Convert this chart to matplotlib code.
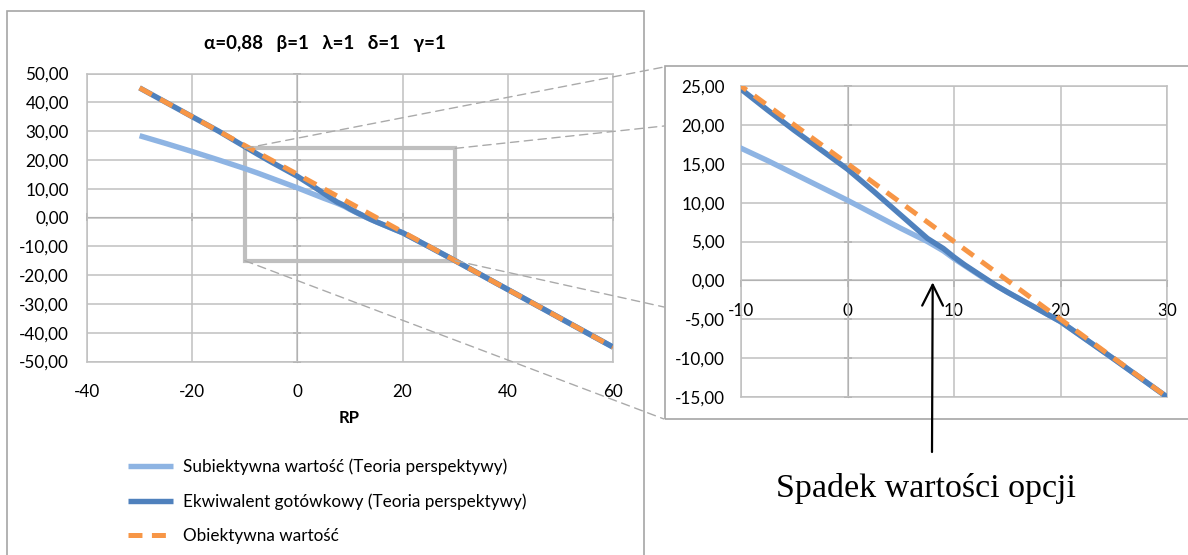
import matplotlib
matplotlib.use("Agg")
import matplotlib.pyplot as plt
from matplotlib.patches import Rectangle, ConnectionPatch
from matplotlib.ticker import FuncFormatter

plt.rcParams['font.family'] = ['Lato', 'DejaVu Sans']

# RP values and the three series
rp = [-30, -25, -20, -15, -10, -7.5, -5, -2.5, 0, 2.5, 5, 7.5, 9, 10, 11, 12,
      13, 14, 15, 17.5, 20, 25, 30, 40, 50, 60]
subjective = [28.4, 25.7, 22.9, 20.0, 17.0, 15.4, 13.7, 12.0, 10.3, 8.5, 6.7,
              5.0, 3.8, 2.8, 1.9, 1.0, 0.1, -0.7, -1.5, -3.4, -5.3, -10.1,
              -15.0, -25.0, -35.0, -45.0]
cash_equiv = [45.0, 40.0, 35.0, 30.0, 24.6, 21.9, 19.3, 16.8, 14.3, 11.4, 8.4,
              5.4, 4.1, 3.0, 2.0, 1.1, 0.2, -0.7, -1.5, -3.4, -5.3, -10.1,
              -15.0, -25.0, -35.0, -45.0]
objective = [45.0, 40.0, 35.0, 30.0, 25.0, 22.5, 20.0, 17.5, 15.0, 12.5, 10.0,
             7.5, 6.0, 5.0, 4.0, 3.0, 2.0, 1.0, 0.0, -2.5, -5.0, -10.0, -15.0,
             -25.0, -35.0, -45.0]

labels = ["Subiektywna wartość (Teoria perspektywy)",
          "Ekwiwalent gotówkowy (Teoria perspektywy)",
          "Obiektywna wartość"]
title = "α=0,88   β=1   λ=1   δ=1   γ=1"

main_xticks = [-40, -20, 0, 20, 40, 60]
main_yticks = [-50, -40, -30, -20, -10, 0, 10, 20, 30, 40, 50]
zoom_xticks = [-10, 0, 10, 20, 30]
zoom_yticks = [-15, -10, -5, 0, 5, 10, 15, 20, 25]
zoom_box = (-10, -15, 30, 24)

C_LIGHT = "#8EB4E3"
C_DARK = "#4F81BD"
C_ORANGE = "#F79646"
C_GRID = "#C0C0C0"
C_AXIS = "#868686"
C_FRAME = "#A6A6A6"
TICK_FS = 12.3

W, H = 1188, 555
fig = plt.figure(figsize=(W / 100, H / 100), dpi=100)


def fx(px):
    return px / W


def fy(py):
    return 1 - py / H


comma = FuncFormatter(lambda v, p: f"{v:.2f}".replace(".", ","))
intfmt = FuncFormatter(lambda v, p: f"{v:.0f}")

# chart frames
fig.add_artist(Rectangle((fx(7), -0.1), fx(644) - fx(7), fy(11) + 0.1,
                         transform=fig.transFigure, fill=False,
                         edgecolor=C_FRAME, lw=1.2, zorder=0))
fig.add_artist(Rectangle((fx(665), fy(419)), 0.6, fy(66) - fy(419),
                         transform=fig.transFigure, fill=False,
                         edgecolor=C_FRAME, lw=1.2, zorder=0))


def draw_series(ax, lw):
    l1, = ax.plot(rp, subjective, color=C_LIGHT, lw=lw, zorder=3,
                  solid_capstyle='butt')
    l2, = ax.plot(rp, cash_equiv, color=C_DARK, lw=lw, zorder=4,
                  solid_capstyle='butt')
    l3, = ax.plot(rp, objective, color=C_ORANGE, lw=lw * 0.92, zorder=5,
                  dashes=(2.8, 1.9), dash_capstyle='butt')
    return [l1, l2, l3]


def style_axes(ax, xt, yt, xlim, ylim):
    ax.set_xlim(*xlim)
    ax.set_ylim(*ylim)
    ax.set_xticks(xt)
    ax.set_yticks(yt)
    ax.grid(True, color=C_GRID, lw=1.1, zorder=0)
    for s in ax.spines.values():
        s.set_color(C_GRID)
        s.set_linewidth(1.1)
    ax.yaxis.set_major_formatter(comma)
    ax.xaxis.set_major_formatter(intfmt)
    ax.tick_params(length=0, labelsize=TICK_FS, colors="black")
    ax.set_axisbelow(True)


# ---- main chart ----
ax1 = fig.add_axes([fx(87), fy(361.5), fx(613) - fx(87), fy(73.5) - fy(361.5)])
style_axes(ax1, main_xticks, main_yticks, (-40, 60), (-50, 50))
ax1.tick_params(axis='x', pad=16)
ax1.tick_params(axis='y', pad=13)
lines = draw_series(ax1, 3.9)

# axis lines through zero
sx1 = ax1.secondary_xaxis(0.5)
sx1.set_xticks(main_xticks)
sx1.tick_params(direction='inout', length=6, color=C_AXIS, labelbottom=False,
                labeltop=False, width=1.1)
sx1.spines['bottom'].set_color(C_AXIS)
sx1.spines['top'].set_color(C_AXIS)
sy1 = ax1.secondary_yaxis(0.4)
sy1.set_yticks(main_yticks)
sy1.tick_params(direction='inout', length=6, color=C_AXIS, labelleft=False,
                labelright=False, width=1.1)
for s in sy1.spines.values():
    s.set_color(C_AXIS)

ax1.add_patch(Rectangle((zoom_box[0], zoom_box[1]), zoom_box[2] - zoom_box[0],
                        zoom_box[3] - zoom_box[1], fill=False,
                        edgecolor="#BFBFBF", lw=3.0, zorder=2.5))

fig.text(fx(325), fy(43), title, ha='center', va='center', fontsize=13.5,
         fontweight='bold')
fig.text(fx(349), fy(418), "RP", ha='center', va='center', fontsize=12,
         fontweight='bold')

fig.legend(lines, labels, loc='upper left',
           bbox_to_anchor=(fx(128), fy(458)), frameon=False, fontsize=12.3,
           handlelength=2.65, handletextpad=0.55, labelspacing=1.08,
           borderaxespad=0, borderpad=0)

# ---- zoomed chart ----
ax2 = fig.add_axes([fx(741), fy(397), fx(1167) - fx(741), fy(86) - fy(397)])
style_axes(ax2, zoom_xticks, zoom_yticks, (-10, 30), (-15, 25))
ax2.tick_params(axis='x', labelbottom=False)
ax2.tick_params(axis='y', pad=11.5)
draw_series(ax2, 3.9)

sx2 = ax2.secondary_xaxis(15 / 40)
sx2.set_xticks(zoom_xticks)
sx2.xaxis.set_major_formatter(intfmt)
sx2.tick_params(direction='out', length=5, color=C_AXIS, labelsize=TICK_FS,
                pad=11, width=1.1)
for s in sx2.spines.values():
    s.set_color(C_AXIS)
sy2 = ax2.secondary_yaxis(0.25)
sy2.set_yticks(zoom_yticks)
sy2.tick_params(direction='inout', length=6, color=C_AXIS, labelleft=False,
                labelright=False, width=1.1)
for s in sy2.spines.values():
    s.set_color(C_AXIS)

# connectors from the box corners to the zoomed chart
corners = [((zoom_box[0], zoom_box[3]), 67), ((zoom_box[2], zoom_box[3]), 126),
           ((zoom_box[2], zoom_box[1]), 307), ((zoom_box[0], zoom_box[1]), 419)]
for xy, py in corners:
    cp = ConnectionPatch(xyA=xy, coordsA=ax1.transData,
                         xyB=(fx(664), fy(py)), coordsB=fig.transFigure,
                         color="#AAAAAA", lw=1.0, linestyle=(0, (6, 4)),
                         zorder=1)
    fig.add_artist(cp)

# annotation arrow
ax2.annotate("", xy=(8, -0.25), xycoords='data',
             xytext=(fx(932), fy(452)), textcoords='figure fraction',
             arrowprops=dict(arrowstyle='->,head_length=0.6,head_width=0.3',
                             mutation_scale=25, lw=1.6, color='black',
                             shrinkA=0, shrinkB=0),
             annotation_clip=False)
fig.text(fx(926), fy(497), "Spadek wartości opcji", ha='center',
         va='baseline', fontsize=24.5, family='Liberation Serif')

fig.savefig("out.png", dpi=100)
